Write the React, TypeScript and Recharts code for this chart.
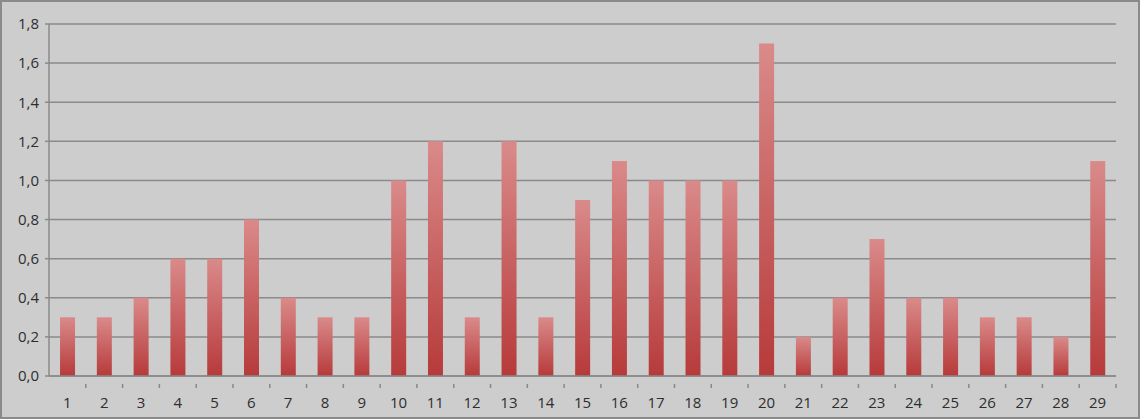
import { BarChart, Bar, XAxis, YAxis, CartesianGrid } from 'recharts';

const categories = [
  '1', '2', '3', '4', '5', '6', '7', '8', '9', '10', '11', '12', '13', '14', '15',
  '16', '17', '18', '19', '20', '21', '22', '23', '24', '25', '26', '27', '28', '29',
];
const values = [
  0.3, 0.3, 0.4, 0.6, 0.6, 0.8, 0.4, 0.3, 0.3, 1.0, 1.2, 0.3, 1.2, 0.3, 0.9,
  1.1, 1.0, 1.0, 1.0, 1.7, 0.2, 0.4, 0.7, 0.4, 0.4, 0.3, 0.3, 0.2, 1.1,
];
const yTicks = [0, 0.2, 0.4, 0.6, 0.8, 1.0, 1.2, 1.4, 1.6, 1.8];

const data = categories.map((name, i) => ({ name, value: values[i] }));

const W = 1136;
const H = 415;
const margin = { top: 22, right: 22, bottom: 0, left: 0 };
const yAxisWidth = 47;
const band = (W - margin.left - margin.right - yAxisWidth) / categories.length;

const fmt = (v: number) => v.toFixed(1).replace('.', ',');

// label under the category, tick mark on the right edge of its band
const XTick = (props: any) => {
  const { x, y, payload } = props;
  return (
    <g>
      <line x1={x + band / 2} x2={x + band / 2} y1={y} y2={y + 4} stroke="#888" strokeWidth={1.5} />
      <text x={x} y={y + 24} textAnchor="middle" fontSize={15} fill="#2e2e2e">
        {payload.value}
      </text>
    </g>
  );
};

export default function App() {
  return (
    <div
      style={{
        position: 'absolute',
        left: 0,
        top: 0,
        width: 1140,
        height: 419,
        boxSizing: 'border-box',
        border: '2px solid #8a8a8a',
        background: '#cdcdcd',
        fontFamily: '"Open Sans", sans-serif',
      }}
    >
      <BarChart width={W} height={H} data={data} margin={margin} barCategoryGap="30%">
        <defs>
          <linearGradient id="barFill" x1="0" y1="0" x2="0" y2="1">
            <stop offset="0%" stopColor="#da8a8a" />
            <stop offset="100%" stopColor="#b73a3a" />
          </linearGradient>
        </defs>
        <CartesianGrid vertical={false} stroke="#8a8a8a" strokeWidth={1.5} />
        <XAxis
          dataKey="name"
          height={41}
          stroke="#8a8a8a"
          strokeWidth={1.5}
          tickLine={false}
          tick={<XTick />}
          interval={0}
        />
        <YAxis
          width={yAxisWidth}
          domain={[0, 1.8]}
          ticks={yTicks}
          tickFormatter={fmt}
          stroke="#8a8a8a"
          strokeWidth={1.5}
          tickSize={4}
          tickMargin={6}
          tick={{ fill: '#2e2e2e', fontSize: 15 }}
        />
        <Bar dataKey="value" fill="url(#barFill)" isAnimationActive={false} />
      </BarChart>
    </div>
  );
}
